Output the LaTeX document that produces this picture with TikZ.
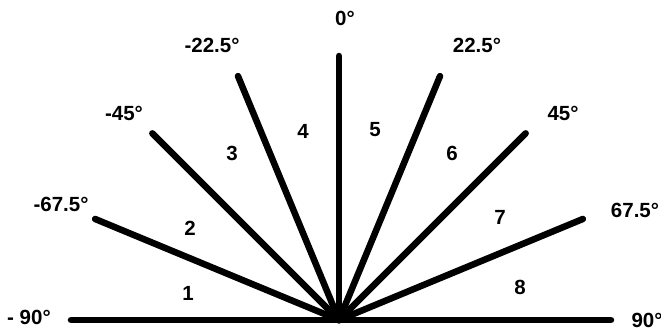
\documentclass[tikz,border=0pt]{standalone}
\usepackage{fontspec}
\setmainfont{Liberation Sans}
\begin{document}
\begin{tikzpicture}[x=1pt,y=1pt,line width=6.5pt,line cap=round,
	lbl/.style={font=\fontsize{20.5}{20.5}\selectfont\bfseries,inner sep=0pt}]
			\useasboundingbox (-339,-13) rectangle (322,320);
			\coordinate (O) at (0,0);
			\draw (-268,0) coordinate (L)--(272,0) coordinate (R);
			\foreach \a/\n in {22.5/a,45/b,67.5/c,90/d,112.5/e,135/f,157.5/g}\draw (O)--(\a:264) coordinate (\n);
			% angles
			\node[lbl] (t0) at (6,302) {0°};
			\node[lbl] (tm1) at (-127,275) {-22.5°};
			\node[lbl] (tp1) at (138,275) {22.5°};
			\node[lbl] (tm2) at (-215,207) {-45°};
			\node[lbl] (tp2) at (224,207) {45°};
			\node[lbl] (tm3) at (-278,116) {-67.5°};
			\node[lbl] (tp3) at (296,110) {67.5°};
			\node[lbl] (tm4) at (-310,3) {- 90°};
			\node[lbl] (tp4) at (308,0) {90°};
			% sectors
			\foreach \x/\y/\k in {-151/27/1,-149/92/2,-107/167/3,-36/189/4,36/190/5,113/167/6,161/103/7,181/33/8}
				\node[lbl] (s\k) at (\x,\y) {\k};
\end{tikzpicture}
\end{document}
